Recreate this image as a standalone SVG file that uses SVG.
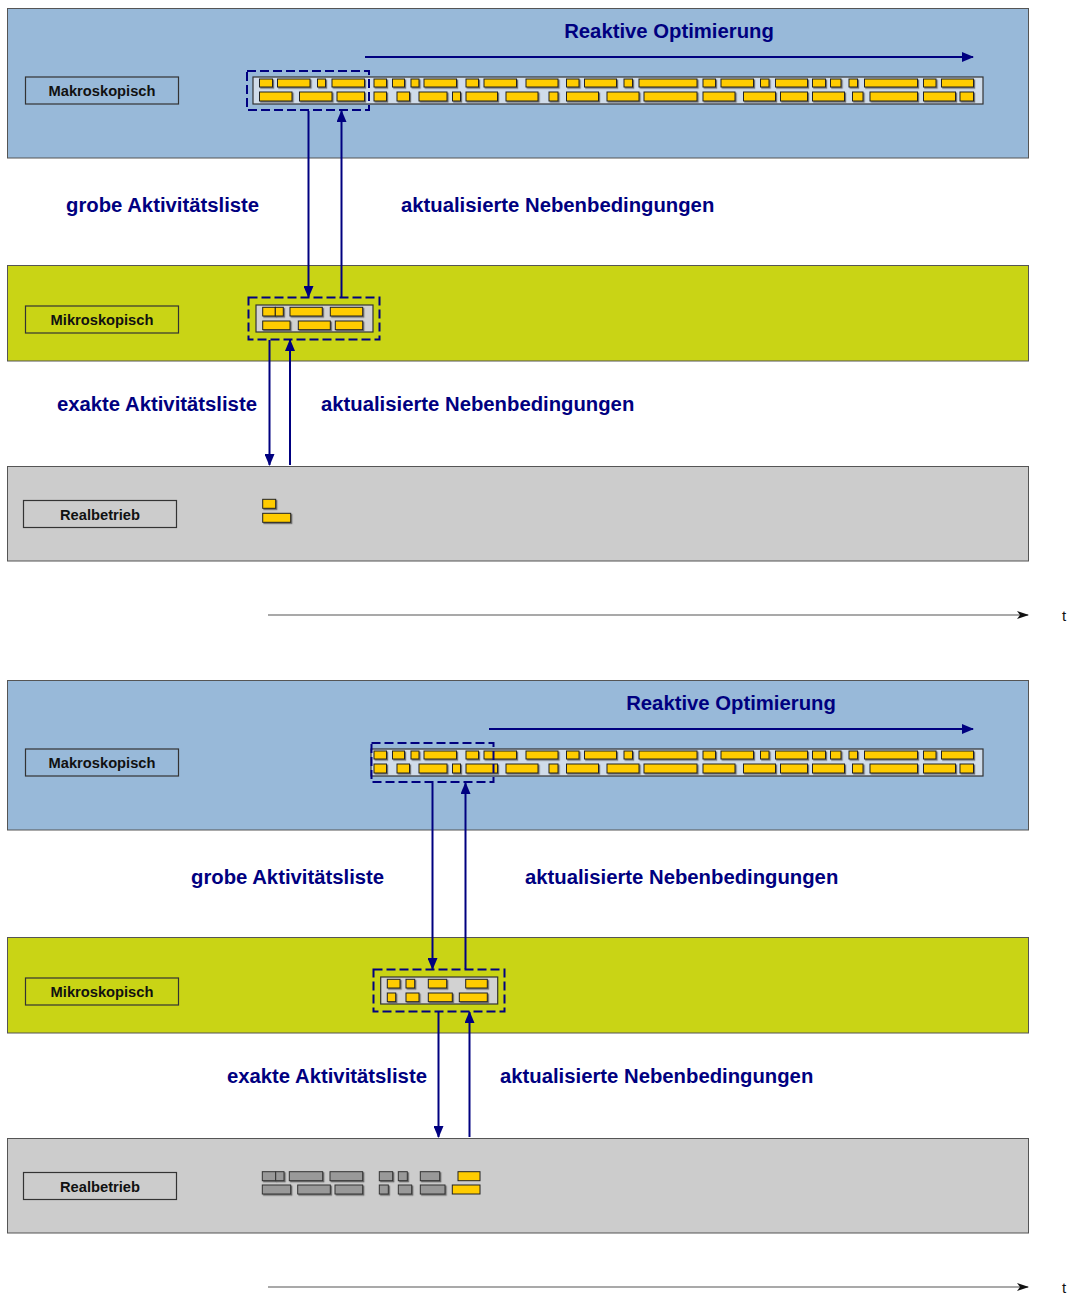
<svg xmlns="http://www.w3.org/2000/svg" xmlns:xlink="http://www.w3.org/1999/xlink" width="1068" height="1295" viewBox="0 0 1068 1295">
<style>
.macro{fill:#98b9d9;stroke:#555;stroke-width:1}
.micro{fill:#c9d415;stroke:#555;stroke-width:1}
.real{fill:#cccccc;stroke:#555;stroke-width:1}
.lbl{fill:none;stroke:#333;stroke-width:1.2}
.lt{font-family:"Liberation Sans",Arial,sans-serif;font-weight:bold;font-size:14.7px;fill:#111;text-anchor:middle}
.big{font-family:"Liberation Sans",Arial,sans-serif;font-weight:bold;font-size:20.3px;fill:#000080}
.bar{fill:#d0dcea;stroke:#333;stroke-width:1.2}
.mbar{fill:#d2d2d2;stroke:#333;stroke-width:1.2}
.y rect, rect.y{fill:#ffcc00;stroke:#222;stroke-width:1}
.g rect{fill:#999999;stroke:#333;stroke-width:1}
.dash{fill:none;stroke:#000080;stroke-width:2;stroke-dasharray:9,4}
.arr{stroke:#000080;stroke-width:2;fill:none;marker-end:url(#ah)}
.ax{stroke:#555;stroke-width:1.2;fill:none;marker-end:url(#ak)}
.t{font-family:"Liberation Sans",Arial,sans-serif;font-size:15px;fill:#111}
</style>
<defs>
<marker id="ah" markerUnits="userSpaceOnUse" markerWidth="12" markerHeight="10" refX="11" refY="5" orient="auto"><path d="M0,0 L12,5 L0,10 z" fill="#000080"/></marker>
<marker id="ak" markerUnits="userSpaceOnUse" markerWidth="12" markerHeight="10" refX="11" refY="5" orient="auto"><path d="M0,1 L12,5 L0,9 L3,5 z" fill="#111"/></marker>
<filter id="sh" x="-10%" y="-20%" width="130%" height="160%"><feDropShadow dx="1.2" dy="1.2" stdDeviation="0.4" flood-color="#555" flood-opacity="0.8"/></filter>
<g id="barBoxes" class="y" filter="url(#sh)">
<rect x="374" y="79" width="12.5" height="8"/><rect x="392.5" y="79" width="12" height="8"/><rect x="411" y="79" width="8" height="8"/><rect x="424" y="79" width="32.5" height="8"/><rect x="466" y="79" width="12.5" height="8"/><rect x="484" y="79" width="32.5" height="8"/><rect x="526" y="79" width="32" height="8"/><rect x="566.5" y="79" width="12.5" height="8"/><rect x="584.5" y="79" width="32" height="8"/><rect x="624" y="79" width="8.5" height="8"/><rect x="639" y="79" width="58" height="8"/><rect x="703" y="79" width="12.5" height="8"/><rect x="721" y="79" width="32.5" height="8"/><rect x="760.5" y="79" width="8.5" height="8"/><rect x="775.5" y="79" width="32" height="8"/><rect x="812.5" y="79" width="13" height="8"/><rect x="830.5" y="79" width="10.5" height="8"/><rect x="849" y="79" width="8.5" height="8"/><rect x="864.5" y="79" width="53" height="8"/><rect x="923.5" y="79" width="12.5" height="8"/><rect x="941.5" y="79" width="32" height="8"/>
<rect x="374" y="92" width="12.5" height="9"/><rect x="397" y="92" width="12.5" height="9"/><rect x="419" y="92" width="28" height="9"/><rect x="452.5" y="92" width="8" height="9"/><rect x="466" y="92" width="31.5" height="9"/><rect x="506" y="92" width="32" height="9"/><rect x="549" y="92" width="9" height="9"/><rect x="566.5" y="92" width="32" height="9"/><rect x="607" y="92" width="32" height="9"/><rect x="644" y="92" width="53" height="9"/><rect x="703" y="92" width="32" height="9"/><rect x="743.5" y="92" width="32" height="9"/><rect x="780.5" y="92" width="27" height="9"/><rect x="812.5" y="92" width="32" height="9"/><rect x="852.5" y="92" width="10.5" height="9"/><rect x="870" y="92" width="47.5" height="9"/><rect x="923.5" y="92" width="32" height="9"/><rect x="960" y="92" width="13.5" height="9"/>
</g>
</defs>
<rect width="1068" height="1295" fill="#ffffff"/>

<!-- TOP HALF -->
<g id="macro1">
<rect class="macro" x="7.5" y="8.5" width="1021" height="149.5"/>
<rect class="lbl" x="25.5" y="77" width="153" height="27"/>
<text class="lt" x="102" y="96">Makroskopisch</text>
<rect class="bar" x="253" y="77" width="730" height="27"/>
<g class="y" filter="url(#sh)">
<rect x="259.5" y="79" width="13" height="8"/><rect x="277.5" y="79" width="32.5" height="8"/><rect x="317.5" y="79" width="8" height="8"/><rect x="332" y="79" width="32.5" height="8"/>
<rect x="259.5" y="92" width="32.5" height="9"/><rect x="299.5" y="92" width="32.5" height="9"/><rect x="337" y="92" width="27.5" height="9"/>
</g>
<use xlink:href="#barBoxes"/>
<rect class="dash" x="247" y="71" width="122" height="39"/>
<text class="big" x="669" y="38" text-anchor="middle">Reaktive Optimierung</text>
</g>

<g id="micro1">
<rect class="micro" x="7.5" y="265.5" width="1021" height="95.5"/>
<rect class="lbl" x="25.5" y="306" width="153" height="27"/>
<text class="lt" x="102" y="325">Mikroskopisch</text>
<rect class="mbar" x="256" y="305" width="117" height="27"/>
<g class="y" filter="url(#sh)">
<rect x="262.7" y="307.3" width="12.6" height="8.7"/><rect x="275.3" y="307.3" width="8" height="8.7"/><rect x="290" y="307.3" width="32.3" height="8.7"/><rect x="330.3" y="307.3" width="32.4" height="8.7"/>
<rect x="262.7" y="321" width="27.3" height="8.7"/><rect x="298.3" y="321" width="32" height="8.7"/><rect x="335.3" y="321" width="27.4" height="8.7"/>
</g>
<rect class="dash" x="248.5" y="297.5" width="131" height="42"/>
</g>

<g id="real1">
<rect class="real" x="7.5" y="466.5" width="1021" height="94.5"/>
<rect class="lbl" x="23.5" y="500.5" width="153" height="27"/>
<text class="lt" x="100" y="519.5">Realbetrieb</text>
<g class="y" filter="url(#sh)">
<rect x="262.7" y="499.3" width="13" height="9"/><rect x="262.7" y="513.3" width="28" height="9"/>
</g>
</g>

<g id="axis1">
<line class="ax" x1="268" y1="615" x2="1028" y2="615"/>
<text class="t" x="1062" y="621">t</text>
</g>

<!-- BOTTOM HALF -->
<g id="macro2">
<rect class="macro" x="7.5" y="680.5" width="1021" height="149.5"/>
<rect class="lbl" x="25.5" y="749" width="153" height="27"/>
<text class="lt" x="102" y="768">Makroskopisch</text>
<rect class="bar" x="371" y="749" width="612" height="27"/>
<use xlink:href="#barBoxes" transform="translate(0,672)"/>
<rect class="dash" x="371.5" y="743" width="122" height="39"/>
<text class="big" x="731" y="710" text-anchor="middle">Reaktive Optimierung</text>
</g>

<g id="micro2">
<rect class="micro" x="7.5" y="937.5" width="1021" height="95.5"/>
<rect class="lbl" x="25.5" y="978" width="153" height="27"/>
<text class="lt" x="102" y="997">Mikroskopisch</text>
<rect class="mbar" x="380.7" y="977" width="117" height="27"/>
<g class="y" filter="url(#sh)">
<rect x="387.3" y="979.3" width="12.7" height="8.7"/><rect x="406" y="979.3" width="8.7" height="8.7"/><rect x="428.3" y="979.3" width="18.4" height="8.7"/><rect x="465.7" y="979.3" width="21.6" height="8.7"/>
<rect x="387.3" y="993" width="8.4" height="8.7"/><rect x="406" y="993" width="13" height="8.7"/><rect x="428.3" y="993" width="24" height="8.7"/><rect x="459.3" y="993" width="28" height="8.7"/>
</g>
<rect class="dash" x="373.5" y="969.5" width="131" height="42"/>
</g>

<g id="real2">
<rect class="real" x="7.5" y="1138.5" width="1021" height="94.5"/>
<rect class="lbl" x="23.5" y="1172.5" width="153" height="27"/>
<text class="lt" x="100" y="1191.5">Realbetrieb</text>
<g class="g" filter="url(#sh)">
<rect x="262.3" y="1171.7" width="13.4" height="9"/><rect x="275.7" y="1171.7" width="8.3" height="9"/><rect x="289.3" y="1171.7" width="33.4" height="9"/><rect x="330" y="1171.7" width="32.7" height="9"/><rect x="379.3" y="1171.7" width="13.4" height="9"/><rect x="398.3" y="1171.7" width="9" height="9"/><rect x="420.3" y="1171.7" width="19.4" height="9"/>
<rect x="262.3" y="1185" width="28.4" height="9"/><rect x="297.7" y="1185" width="32.6" height="9"/><rect x="335" y="1185" width="27.7" height="9"/><rect x="379.3" y="1185" width="9" height="9"/><rect x="398.3" y="1185" width="13.4" height="9"/><rect x="420.3" y="1185" width="24.7" height="9"/>
</g>
<g class="y">
<rect x="458" y="1171.7" width="22" height="9"/><rect x="452.3" y="1185" width="27.7" height="9"/>
</g>
</g>

<g id="axis2">
<line class="ax" x1="268" y1="1287" x2="1028" y2="1287"/>
<text class="t" x="1062" y="1293">t</text>
</g>

<!-- labels -->
<g id="labels">
<text class="big" x="66" y="212">grobe Aktivitätsliste</text>
<text class="big" x="401" y="212">aktualisierte Nebenbedingungen</text>
<text class="big" x="57" y="411">exakte Aktivitätsliste</text>
<text class="big" x="321" y="411">aktualisierte Nebenbedingungen</text>
<text class="big" x="191" y="884">grobe Aktivitätsliste</text>
<text class="big" x="525" y="884">aktualisierte Nebenbedingungen</text>
<text class="big" x="227" y="1083">exakte Aktivitätsliste</text>
<text class="big" x="500" y="1083">aktualisierte Nebenbedingungen</text>
</g>

<!-- connectors -->
<g id="connectors">
<line class="arr" x1="365" y1="57" x2="973" y2="57"/>
<line class="arr" x1="308.5" y1="111" x2="308.5" y2="297"/>
<line class="arr" x1="341.5" y1="297" x2="341.5" y2="111"/>
<line class="arr" x1="269.5" y1="340" x2="269.5" y2="465"/>
<line class="arr" x1="290" y1="465" x2="290" y2="340"/>
<line class="arr" x1="489" y1="729" x2="973" y2="729"/>
<line class="arr" x1="432.5" y1="783" x2="432.5" y2="969"/>
<line class="arr" x1="465.5" y1="969" x2="465.5" y2="783"/>
<line class="arr" x1="438.5" y1="1012" x2="438.5" y2="1137"/>
<line class="arr" x1="469.5" y1="1137" x2="469.5" y2="1012"/>
</g>
</svg>
